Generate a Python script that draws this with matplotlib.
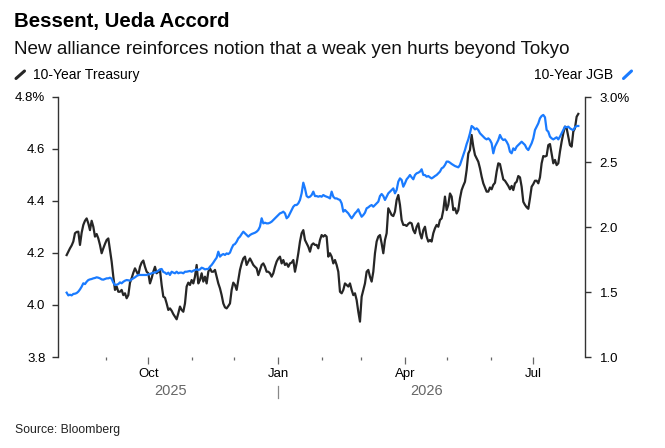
import matplotlib
matplotlib.use("Agg")
import matplotlib.pyplot as plt
import matplotlib.dates as mdates
import matplotlib.ticker as mticker
import matplotlib.transforms as mtransforms
from matplotlib.lines import Line2D
import pandas as pd

plt.rcParams['font.family'] = ['Liberation Sans', 'DejaVu Sans']

# 10-year yields (%), roughly one value every ~1.2 days
treasury = [
    4.192, 4.205, 4.218, 4.229, 4.244, 4.276, 4.281, 4.282, 4.231, 4.278,
    4.308, 4.324, 4.333, 4.314, 4.288, 4.324, 4.301, 4.263, 4.273, 4.256,
    4.231, 4.199, 4.218, 4.235, 4.250, 4.256, 4.212, 4.167, 4.109, 4.058,
    4.071, 4.051, 4.051, 4.058, 4.038, 4.045, 4.026, 4.038, 4.086, 4.103,
    4.124, 4.141, 4.128, 4.115, 4.147, 4.163, 4.171, 4.147, 4.128, 4.122,
    4.083, 4.103, 4.128, 4.147, 4.122, 4.128, 4.135, 4.077, 4.032, 4.028,
    4.006, 3.981, 3.987, 3.978, 3.965, 3.955, 3.945, 3.968, 3.994, 3.981,
    3.974, 4.006, 4.071, 4.086, 4.077, 4.096, 4.083, 4.109, 4.154, 4.083,
    4.096, 4.122, 4.090, 4.109, 4.083, 4.128, 4.141, 4.128, 4.128, 4.135,
    4.109, 4.083, 4.064, 4.038, 4.006, 3.991, 3.987, 3.996, 4.006,
    4.058, 4.086, 4.077, 4.058, 4.096, 4.135, 4.160, 4.179, 4.186, 4.154,
    4.167, 4.179, 4.167, 4.154, 4.147, 4.141, 4.115, 4.135, 4.154, 4.160,
    4.147, 4.128, 4.128, 4.122, 4.109, 4.122, 4.147, 4.167, 4.179, 4.186,
    4.160, 4.173, 4.154, 4.160, 4.147, 4.160, 4.163, 4.173, 4.128, 4.160,
    4.199, 4.244, 4.276, 4.288, 4.250, 4.237, 4.224, 4.205, 4.231, 4.237,
    4.231, 4.231, 4.218, 4.250, 4.269, 4.263, 4.269, 4.263, 4.186, 4.199,
    4.186, 4.160, 4.173, 4.154, 4.128, 4.051, 4.045, 4.058, 4.083, 4.077,
    4.071, 4.083, 4.058, 4.038, 4.045, 4.019, 3.974, 3.936, 4.032, 4.058,
    4.083, 4.128, 4.135, 4.109, 4.090, 4.128, 4.199, 4.244, 4.263, 4.269,
    4.237, 4.199, 4.250, 4.276, 4.372, 4.359, 4.346, 4.342, 4.359, 4.404,
    4.423, 4.385, 4.327, 4.308, 4.308, 4.304, 4.312, 4.317,
    4.314, 4.288, 4.276, 4.301, 4.314, 4.276, 4.256, 4.288, 4.301, 4.263,
    4.244, 4.250, 4.244, 4.276, 4.295, 4.308, 4.301, 4.327, 4.333, 4.365,
    4.417, 4.365, 4.385, 4.429, 4.417, 4.365, 4.372, 4.352, 4.365, 4.410,
    4.442, 4.459, 4.474, 4.519, 4.583, 4.596, 4.654, 4.609, 4.577, 4.564,
    4.551, 4.526, 4.494, 4.468, 4.452, 4.436, 4.436, 4.452, 4.445, 4.462,
    4.470, 4.513, 4.545, 4.542, 4.513, 4.483, 4.478, 4.468, 4.458, 4.445,
    4.458, 4.442, 4.468, 4.474, 4.496, 4.491, 4.455, 4.397, 4.385, 4.376,
    4.370, 4.410, 4.455, 4.465, 4.478, 4.478, 4.468, 4.491, 4.545, 4.573,
    4.571, 4.574, 4.615, 4.619, 4.583, 4.545, 4.558, 4.538, 4.545, 4.590,
    4.628, 4.660, 4.686, 4.680, 4.647, 4.615, 4.609, 4.667, 4.680, 4.724,
    4.735,
]

jgb = [
    1.495, 1.474, 1.479, 1.474, 1.485, 1.487, 1.492, 1.503, 1.520, 1.541,
    1.567, 1.561, 1.579, 1.592, 1.597, 1.600, 1.605, 1.608, 1.613, 1.610,
    1.605, 1.597, 1.595, 1.600, 1.605, 1.605, 1.610, 1.602, 1.572, 1.554,
    1.556, 1.561, 1.574, 1.567, 1.579, 1.587, 1.592, 1.590, 1.587, 1.597,
    1.605, 1.613, 1.623, 1.631, 1.631, 1.631, 1.631, 1.631, 1.631, 1.636,
    1.638, 1.644, 1.649, 1.649, 1.656, 1.664, 1.674, 1.677, 1.654, 1.649,
    1.638, 1.649, 1.631, 1.656, 1.649, 1.644, 1.656, 1.644, 1.649, 1.649,
    1.644, 1.656, 1.656, 1.659, 1.662, 1.656, 1.664, 1.669, 1.674, 1.669,
    1.674, 1.687, 1.682, 1.674, 1.677, 1.677, 1.695, 1.708, 1.726, 1.746,
    1.764, 1.810, 1.772, 1.785, 1.792, 1.785, 1.797, 1.792, 1.803,
    1.836, 1.862, 1.869, 1.887, 1.913, 1.926, 1.946, 1.964, 1.951, 1.938,
    1.926, 1.938, 1.946, 1.951, 1.956, 1.964, 1.977, 2.003, 2.067, 2.028,
    2.033, 2.028, 2.028, 2.033, 2.041, 2.054, 2.067, 2.079, 2.092, 2.105,
    2.110, 2.118, 2.105, 2.067, 2.079, 2.105, 2.131, 2.156, 2.169, 2.169,
    2.182, 2.208, 2.259, 2.341, 2.297, 2.238, 2.228, 2.233, 2.246, 2.272,
    2.238, 2.238, 2.233, 2.238, 2.233, 2.246, 2.238, 2.233, 2.228, 2.220,
    2.272, 2.233, 2.220, 2.220, 2.213, 2.208, 2.182, 2.118, 2.131, 2.118,
    2.105, 2.085, 2.067, 2.085, 2.105, 2.118, 2.136, 2.105, 2.079, 2.092,
    2.110, 2.144, 2.151, 2.162, 2.169, 2.156, 2.169, 2.182, 2.195, 2.238,
    2.254, 2.238, 2.208, 2.233, 2.259, 2.272, 2.285, 2.297, 2.259, 2.285,
    2.349, 2.374, 2.362, 2.310, 2.336, 2.367, 2.382, 2.400,
    2.382, 2.367, 2.400, 2.413, 2.418, 2.426, 2.444, 2.400, 2.400, 2.387,
    2.392, 2.382, 2.374, 2.382, 2.392, 2.400, 2.413, 2.426, 2.451, 2.459,
    2.477, 2.503, 2.503, 2.495, 2.485, 2.477, 2.469, 2.464, 2.459, 2.477,
    2.515, 2.554, 2.592, 2.638, 2.674, 2.721, 2.777, 2.767, 2.751, 2.759,
    2.746, 2.721, 2.708, 2.695, 2.682, 2.674, 2.682, 2.669, 2.644, 2.567,
    2.618, 2.644, 2.669, 2.708, 2.682, 2.669, 2.674, 2.656, 2.631, 2.579,
    2.567, 2.605, 2.592, 2.618, 2.631, 2.644, 2.656, 2.644, 2.631, 2.605,
    2.592, 2.618, 2.644, 2.682, 2.746, 2.772, 2.797, 2.836, 2.854, 2.862,
    2.844, 2.746, 2.733, 2.695, 2.682, 2.674, 2.682, 2.690, 2.674, 2.695,
    2.721, 2.746, 2.772, 2.767, 2.772, 2.759, 2.751, 2.746, 2.767, 2.777,
    2.777,
]

first_day = '2025-08-04 03:00'
last_day = '2026-08-01 18:00'

left_ticks = [3.8, 4.0, 4.2, 4.4, 4.6, 4.8]
left_labels = ['3.8', '4.0', '4.2', '4.4', '4.6', '4.8%']
right_ticks = [1.0, 1.5, 2.0, 2.5, 3.0]
right_labels = ['1.0', '1.5', '2.0', '2.5', '3.0%']

# month ticks run Sep 2025 .. Jul 2026 only
tick_months = pd.date_range('2025-09-01', '2026-07-01', freq='MS')

years = ['2025', '2026']
year_centers = ['2025-10-17', '2026-04-16']
year_break = '2026-01-01'

BLACK = '#262626'
BLUE = '#1a7bff'
SPINE = '#333333'

treasury_dates = pd.date_range(first_day, last_day, periods=len(treasury))
jgb_dates = pd.date_range(first_day, last_day, periods=len(jgb))

W, H = 665, 448
fig = plt.figure(figsize=(W / 100, H / 100), dpi=100)
ax = fig.add_axes([58.3 / W, 1 - 357 / H, (585 - 58.3) / W, 260 / H])
ax2 = ax.twinx()

ax.plot(treasury_dates, treasury, color=BLACK, lw=1.6, solid_joinstyle='round')
ax2.plot(jgb_dates, jgb, color=BLUE, lw=1.6, solid_joinstyle='round')

ax.set_xlim(pd.Timestamp('2025-07-29 05:00'), pd.Timestamp('2026-08-06 12:00'))
ax.set_ylim(3.8, 4.8)
ax2.set_ylim(1.0, 3.0)

for a in (ax, ax2):
    for s in ('top', 'bottom'):
        a.spines[s].set_visible(False)
ax.spines['right'].set_visible(False)
ax2.spines['left'].set_visible(False)
ax.spines['left'].set_color(SPINE)
ax2.spines['right'].set_color(SPINE)
ax.spines['left'].set_linewidth(1.0)
ax2.spines['right'].set_linewidth(1.0)

ax.set_yticks(left_ticks)
ax.set_yticklabels(left_labels)
ax2.set_yticks(right_ticks)
ax2.set_yticklabels(right_labels)
ax.tick_params(axis='y', length=4.3, width=1.0, color=SPINE, pad=5, labelsize=9.5)
ax2.tick_params(axis='y', length=4.1, width=1.0, color=SPINE, pad=6.5, labelsize=9.5)

ax.xaxis.set_major_locator(mdates.MonthLocator(bymonth=[1, 4, 7, 10]))
ax.xaxis.set_major_formatter(mdates.DateFormatter('%b'))
ax.xaxis.set_minor_locator(mticker.FixedLocator(mdates.date2num(tick_months)))
ax.tick_params(axis='x', which='major', length=5, width=0.9, color='#666666',
               pad=3, labelsize=9.5)
ax.tick_params(axis='x', which='minor', length=2.5, width=0.9, color='#666666')

# year labels under the months, with a divider at the new year
trans = mtransforms.blended_transform_factory(ax.transData, ax.transAxes)
for label, center in zip(years, year_centers):
    ax.text(pd.Timestamp(center), -0.131, label, transform=trans, ha='center',
            va='center', fontsize=10.5, color='#666666')
ax.plot([pd.Timestamp(year_break)] * 2, [-0.112, -0.159], transform=trans,
        color='#888888', lw=0.9, clip_on=False)

# titles
fig.text(14 / W, 1 - 27 / H, 'Bessent, Ueda Accord', fontsize=14.7,
         fontweight='bold', va='baseline', color='black')
fig.text(14 / W, 1 - 54 / H,
         'New alliance reinforces notion that a weak yen hurts beyond Tokyo',
         fontsize=13.6, va='baseline', color='#111111')

# legend
fig.add_artist(Line2D([16 / W, 24.5 / W], [1 - 78.5 / H, 1 - 71 / H],
                      color=BLACK, lw=2.2, solid_capstyle='round'))
fig.text(33 / W, 1 - 79 / H, '10-Year Treasury', fontsize=10, va='baseline')
fig.text(613.5 / W, 1 - 79 / H, '10-Year JGB', fontsize=10, va='baseline',
         ha='right')
fig.add_artist(Line2D([623.5 / W, 631.5 / W], [1 - 78.5 / H, 1 - 71 / H],
                      color=BLUE, lw=2.2, solid_capstyle='round'))

fig.text(15 / W, 1 - 432.7 / H, 'Source: Bloomberg', fontsize=8.8,
         va='baseline', color='#222222')

fig.savefig('out.png', dpi=100)
